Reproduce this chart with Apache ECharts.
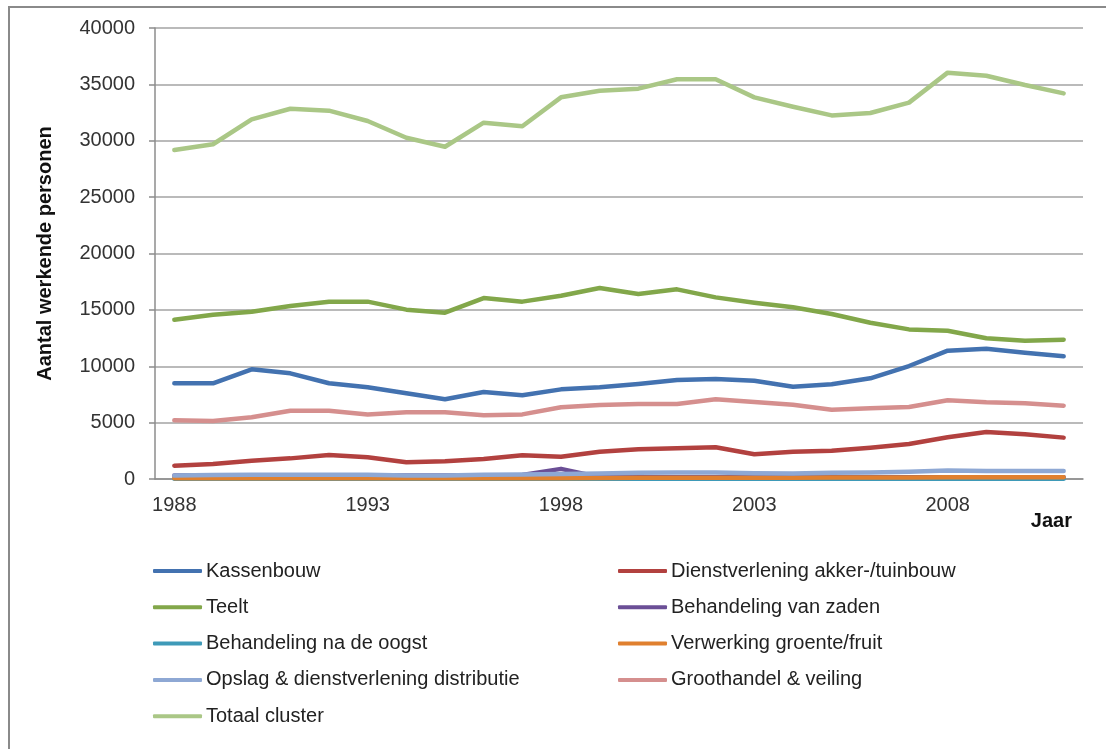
<!DOCTYPE html>
<html>
<head>
<meta charset="utf-8">
<script src="https://cdn.jsdelivr.net/npm/echarts@6/dist/echarts.min.js"></script>
<style>
  html, body { margin: 0; padding: 0; background: #ffffff; }
  #chart { width: 1106px; height: 749px; }
</style>
</head>
<body>
<div id="chart"></div>
<script>
// Werkgelegenheid tuinbouwcluster, 1988-2011
const years = ['1988','1989','1990','1991','1992','1993','1994','1995','1996','1997','1998','1999',
               '2000','2001','2002','2003','2004','2005','2006','2007','2008','2009','2010','2011'];

const kassenbouw     = [8490, 8490, 9730, 9370, 8490, 8130, 7600, 7070, 7720, 7420, 7950, 8130,
                        8430, 8780, 8870, 8720, 8190, 8400, 8930, 10020, 11380, 11560, 11200, 10880];
const dienstverlening = [1180, 1330, 1620, 1830, 2130, 1920, 1480, 1570, 1770, 2100, 1980, 2420,
                        2630, 2720, 2810, 2190, 2420, 2510, 2780, 3100, 3700, 4170, 3960, 3670];
const teelt          = [14130, 14570, 14840, 15340, 15730, 15730, 15020, 14750, 16050, 15730, 16260, 16940,
                        16410, 16820, 16110, 15640, 15230, 14630, 13860, 13270, 13150, 12480, 12270, 12360];
const zaden          = [300, 320, 340, 340, 340, 340, 300, 300, 340, 360, 900, 170,
                        150, 150, 150, 150, 150, 150, 150, 150, 150, 150, 150, 150];
const naOogst        = [20, 20, 20, 20, 20, 20, 20, 20, 20, 20, 20, 20,
                        30, 30, 30, 30, 30, 30, 30, 30, 30, 30, 30, 30];
const verwerking     = [60, 60, 60, 60, 60, 60, 60, 60, 60, 60, 70, 90,
                        110, 110, 110, 110, 120, 140, 140, 140, 150, 150, 150, 150];
const opslag         = [300, 350, 380, 380, 380, 380, 300, 300, 380, 400, 450, 480,
                        550, 580, 580, 500, 480, 560, 580, 650, 750, 700, 700, 700];
const groothandel    = [5200, 5140, 5470, 6060, 6060, 5730, 5910, 5910, 5650, 5730, 6360, 6560,
                        6650, 6650, 7070, 6830, 6590, 6150, 6270, 6390, 6980, 6800, 6710, 6500];
const totaal         = [29180, 29690, 31900, 32840, 32670, 31750, 30270, 29470, 31600, 31280, 33850, 34440,
                        34620, 35450, 35450, 33850, 33020, 32250, 32460, 33380, 36040, 35770, 34940, 34200];

const yTicks = { min: 0, max: 40000, interval: 5000 };

const seriesDefs = [
  { name: 'Kassenbouw', data: kassenbouw, color: '#4372B0' },
  { name: 'Dienstverlening akker-/tuinbouw', data: dienstverlening, color: '#B2413F' },
  { name: 'Teelt', data: teelt, color: '#82A74A' },
  { name: 'Behandeling van zaden', data: zaden, color: '#6B4F96' },
  { name: 'Behandeling na de oogst', data: naOogst, color: '#3E9AB8' },
  { name: 'Verwerking groente/fruit', data: verwerking, color: '#E0802F' },
  { name: 'Opslag & dienstverlening distributie', data: opslag, color: '#8EA8D4' },
  { name: 'Groothandel & veiling', data: groothandel, color: '#D58F8E' },
  { name: 'Totaal cluster', data: totaal, color: '#AAC786' }
];

const FONT = 'Liberation Sans';
const chart = echarts.init(document.getElementById('chart'), null, { renderer: 'canvas' });

const legendBase = {
  orient: 'vertical',
  icon: 'roundRect',
  itemWidth: 49,
  itemHeight: 4,
  itemGap: 14.3,
  selectedMode: false,
  textStyle: { fontFamily: FONT, fontSize: 20, color: '#222', lineHeight: 22, padding: [0, 0, 0, -1] }
};

chart.setOption({
  animation: false,
  backgroundColor: '#ffffff',
  graphic: [{
    type: 'rect',
    shape: { x: 9, y: 7, width: 1200, height: 800 },
    style: { fill: 'none', stroke: '#8a8a8a', lineWidth: 2 },
    silent: true
  }],
  grid: { left: 155, right: 23, top: 28, bottom: 270, containLabel: false },
  legend: [
    Object.assign({}, legendBase, {
      left: 148, top: 555,
      data: ['Kassenbouw', 'Teelt', 'Behandeling na de oogst', 'Opslag & dienstverlening distributie', 'Totaal cluster']
    }),
    Object.assign({}, legendBase, {
      left: 613, top: 555,
      data: ['Dienstverlening akker-/tuinbouw', 'Behandeling van zaden', 'Verwerking groente/fruit', 'Groothandel & veiling']
    })
  ],
  xAxis: {
    type: 'category',
    data: years,
    boundaryGap: true,
    name: 'Jaar',
    nameLocation: 'end',
    nameGap: -11,
    nameTextStyle: {
      fontFamily: FONT, fontSize: 20, fontWeight: 'bold', color: '#111',
      align: 'right', verticalAlign: 'top', padding: [32, 0, 0, 0]
    },
    axisLine: { lineStyle: { color: '#8c8c8c', width: 1.5 } },
    axisTick: { alignWithLabel: true, interval: 0, length: 6, lineStyle: { color: '#8c8c8c', width: 1.5 } },
    axisLabel: { interval: 4, margin: 16, fontFamily: FONT, fontSize: 20, color: '#333' },
    splitLine: { show: false }
  },
  yAxis: {
    type: 'value',
    min: yTicks.min,
    max: yTicks.max,
    interval: yTicks.interval,
    name: 'Aantal werkende personen',
    nameLocation: 'middle',
    nameGap: 100,
    nameTextStyle: { fontFamily: FONT, fontSize: 20, fontWeight: 'bold', color: '#111', padding: [0, 0, 0, 0] },
    axisLine: { show: true, lineStyle: { color: '#8c8c8c', width: 1.5 } },
    axisTick: { show: true, length: 6, lineStyle: { color: '#8c8c8c', width: 1.5 } },
    axisLabel: { margin: 20, fontFamily: FONT, fontSize: 20, color: '#333', formatter: v => String(v) },
    splitLine: { show: true, lineStyle: { color: '#a3a3a3', width: 1.5 } }
  },
  series: seriesDefs.map(s => ({
    name: s.name,
    type: 'line',
    data: s.data,
    showSymbol: false,
    symbol: 'none',
    smooth: false,
    color: s.color,
    lineStyle: { color: s.color, width: 4.5, cap: 'round', join: 'round' },
    emphasis: { disabled: true }
  }))
});
</script>
</body>
</html>
